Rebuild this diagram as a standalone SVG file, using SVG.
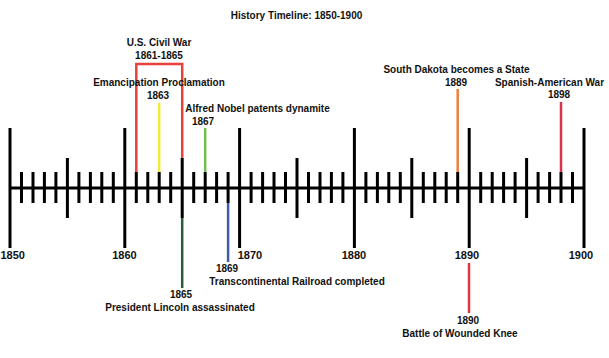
<svg xmlns="http://www.w3.org/2000/svg" width="609" height="358" viewBox="0 0 609 358">
  <style>
    text { font-family: "Liberation Sans", Arial, sans-serif; font-weight: bold; fill: #111; text-anchor: middle; }
    .ev { font-size: 10px; }
    .ax { font-size: 11px; }
    .tk { stroke: #000; stroke-width: 3; fill: none; }
    .c { stroke-width: 2.5; fill: none; }
  </style>
  <rect width="609" height="358" fill="#fff"/>
  <text class="ev" x="296.5" y="19">History Timeline: 1850-1900</text>

  <g id="connectors">
    <path class="c" stroke="#e8413c" stroke-width="3" d="M136.3 172 V64 H182.2 V158"/>
    <path class="c" stroke="#f3e93a" d="M159.2 103 V172"/>
    <path class="c" stroke="#6fbf4e" d="M205.2 128 V172"/>
    <path class="c" stroke="#2e5a3c" d="M182.2 218 V288"/>
    <path class="c" stroke="#3f5ca6" d="M228.1 203 V262"/>
    <path class="c" stroke="#ef7f3c" d="M457.7 89 V172"/>
    <path class="c" stroke="#d9334f" d="M561 102 V172"/>
    <path class="c" stroke="#e3343f" d="M469 263 V313"/>
  </g>

  <g id="axis">
    <path class="tk" d="M10 188 H584"/>
    <path class="tk" d="M10 128V248 M124.8 128V248 M239.6 128V248 M354.4 128V248 M469.2 128V248 M584 128V248"/>
    <path class="tk" d="M67.4 158V218 M182.2 158V218 M297 158V218 M411.8 158V218 M526.6 158V218"/>
    <path class="tk" d="M21.5 172V203 M33 172V203 M44.4 172V203 M55.9 172V203 M78.9 172V203 M90.4 172V203 M101.8 172V203 M113.3 172V203
      M136.3 172V203 M147.8 172V203 M159.2 172V203 M170.7 172V203 M193.7 172V203 M205.2 172V203 M216.6 172V203 M228.1 172V203
      M251.1 172V203 M262.6 172V203 M274 172V203 M285.5 172V203 M308.5 172V203 M320 172V203 M331.4 172V203 M342.9 172V203
      M365.9 172V203 M377.4 172V203 M388.8 172V203 M400.3 172V203 M423.3 172V203 M434.8 172V203 M446.2 172V203 M457.7 172V203
      M480.7 172V203 M492.2 172V203 M503.6 172V203 M515.1 172V203 M538.1 172V203 M549.6 172V203 M561 172V203 M572.5 172V203"/>
    <text class="ax" x="0.5" y="259" style="text-anchor:start">1850</text>
    <text class="ax" x="124.5" y="259">1860</text>
    <text class="ax" x="250" y="259">1870</text>
    <text class="ax" x="354" y="259">1880</text>
    <text class="ax" x="467" y="259">1890</text>
    <text class="ax" x="581" y="259">1900</text>
  </g>

  <g id="civil-war">
    <text class="ev" x="159" y="46">U.S. Civil War</text>
    <text class="ev" x="159" y="59">1861-1865</text>
  </g>
  <g id="emancipation">
    <text class="ev" x="159" y="86">Emancipation Proclamation</text>
    <text class="ev" x="158" y="99">1863</text>
  </g>
  <g id="nobel">
    <text class="ev" x="257.5" y="112">Alfred Nobel patents dynamite</text>
    <text class="ev" x="203" y="125">1867</text>
  </g>
  <g id="south-dakota">
    <text class="ev" x="456.5" y="73">South Dakota becomes a State</text>
    <text class="ev" x="456" y="86">1889</text>
  </g>
  <g id="spanish-american">
    <text class="ev" x="549.5" y="86">Spanish-American War</text>
    <text class="ev" x="559" y="98">1898</text>
  </g>
  <g id="railroad">
    <text class="ev" x="227" y="272">1869</text>
    <text class="ev" x="297" y="285">Transcontinental Railroad completed</text>
  </g>
  <g id="lincoln">
    <text class="ev" x="181" y="298">1865</text>
    <text class="ev" x="180" y="311">President Lincoln assassinated</text>
  </g>
  <g id="wounded-knee">
    <text class="ev" x="468" y="324">1890</text>
    <text class="ev" x="460" y="337">Battle of Wounded Knee</text>
  </g>
</svg>
